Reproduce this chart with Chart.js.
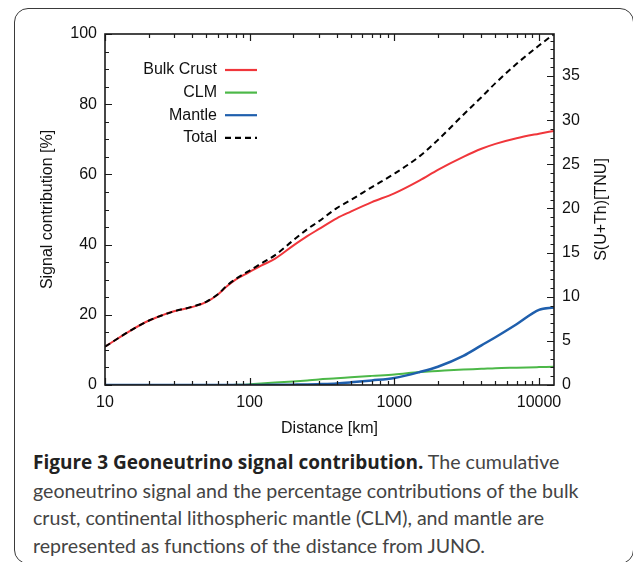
<!DOCTYPE html>
<html>
<head>
<meta charset="utf-8">
<script src="https://cdn.jsdelivr.net/npm/chart.js@4/dist/chart.umd.min.js"></script>
<style>
  html, body { margin:0; padding:0; background:#fff; width:633px; height:562px; overflow:hidden; }
  #frame { position:absolute; left:14px; top:8px; width:620px; height:556px; border:1.5px solid #3a3a3a; border-radius:14px; box-sizing:border-box; }
  #wrap { position:absolute; left:0; top:0; width:633px; height:445px; }
  #caption { position:absolute; left:33px; top:448px; width:600px; font-family:'Lato','Open Sans',sans-serif; font-size:19.6px; line-height:27.5px; color:#444; white-space:nowrap; }
  #caption b { color:#222; font-weight:700; font-family:'Open Sans','Lato',sans-serif; font-size:19px; }
</style>
</head>
<body>
<div id="frame"></div>
<div id="wrap"><canvas id="c" width="633" height="445"></canvas></div>
<div id="caption"><b>Figure 3 Geoneutrino signal contribution.</b> The cumulative<br>geoneutrino signal and the percentage contributions of the bulk<br>crust, continental lithospheric mantle (CLM), and mantle are<br>represented as functions of the distance from JUNO.</div>
<script>
// Distance from JUNO [km]
const distances = [10, 15, 20, 25, 30, 40, 50, 60, 70, 80, 90, 100, 120, 150, 200, 250, 300, 400, 500, 700, 1000, 1500, 2000, 3000, 4000, 5000, 7000, 10000, 12700];
// Signal contribution [%]
const bulkCrust = [10.9, 15.5, 18.3, 19.9, 21.0, 22.2, 23.6, 25.7, 28.2, 30.0, 31.2, 32.2, 34.0, 36.0, 39.7, 42.4, 44.4, 47.5, 49.4, 52.1, 54.6, 58.3, 61.3, 65.0, 67.3, 68.7, 70.3, 71.6, 72.4];
const clm       = [0, 0, 0, 0, 0, 0, 0, 0, 0, 0.05, 0.1, 0.2, 0.4, 0.7, 1.0, 1.3, 1.6, 1.9, 2.2, 2.6, 3.0, 3.7, 4.0, 4.4, 4.6, 4.8, 4.95, 5.1, 5.2];
const mantle    = [0, 0, 0, 0, 0, 0, 0, 0, 0, 0, 0, 0, 0.02, 0.05, 0.1, 0.15, 0.25, 0.45, 0.75, 1.3, 2.0, 3.7, 5.2, 8.3, 11.3, 13.6, 17.3, 21.4, 22.1];
const total     = [10.9, 15.5, 18.3, 19.9, 21.0, 22.3, 23.7, 25.8, 28.4, 30.2, 31.5, 32.6, 34.6, 37.0, 41.2, 44.4, 46.6, 50.4, 52.7, 56.4, 60.2, 65.2, 69.8, 77.0, 82.0, 86.0, 91.5, 96.7, 100];
// Axis tick labels
const xTickLabels = [10, 100, 1000, 10000];
const yTickStep = 20;
const y2TickStep = 5;
const y2Max = 39.75;

const seriesNames = ['Bulk Crust', 'CLM', 'Mantle', 'Total'];
const seriesColors = ['#f0363b', '#4cb848', '#1f5fad', '#000000'];

const pts = arr => distances.map((d, i) => ({x: d, y: arr[i]}));
const FONT = "'Liberation Sans', Arial, sans-serif";

const overlay = {
  id: 'overlay',
  afterDraw(chart) {
    const ctx = chart.ctx;
    const a = chart.chartArea;
    const sx = chart.scales.x, sy = chart.scales.y, sy2 = chart.scales.y2;
    ctx.save();
    ctx.strokeStyle = '#1a1a1a';
    ctx.lineWidth = 1.2;
    ctx.beginPath();
    for (let d = 10; d <= 10000; d *= 10) {
      for (let m = 1; m <= 9; m++) {
        const v = m * d;
        if (v < 10 || v > sx.max) continue;
        const px = Math.round(sx.getPixelForValue(v)) + 0.5;
        const len = m === 1 ? 7 : 4;
        ctx.moveTo(px, a.bottom); ctx.lineTo(px, a.bottom - len);
        ctx.moveTo(px, a.top); ctx.lineTo(px, a.top + len);
      }
    }
    for (let v = 0; v <= 100; v += 5) {
      const py = Math.round(sy.getPixelForValue(v)) + 0.5;
      const len = v % yTickStep === 0 ? 7 : 4;
      ctx.moveTo(a.left, py); ctx.lineTo(a.left + len, py);
    }
    for (let v = 0; v <= y2Max; v += 1) {
      const py = Math.round(sy2.getPixelForValue(v)) + 0.5;
      const len = v % y2TickStep === 0 ? 7 : 3.5;
      ctx.moveTo(a.right, py); ctx.lineTo(a.right - len, py);
    }
    ctx.stroke();
    ctx.lineWidth = 1.6;
    ctx.strokeRect(a.left, a.top, a.right - a.left, a.bottom - a.top);

    ctx.font = '16px ' + FONT;
    ctx.textAlign = 'right';
    ctx.textBaseline = 'middle';
    chart.data.datasets.forEach((ds, i) => {
      const y = 70 + i * 22.6;
      ctx.fillStyle = '#111';
      ctx.fillText(ds.label, 217, y);
      ctx.beginPath();
      ctx.strokeStyle = ds.borderColor;
      ctx.lineWidth = 2.2;
      ctx.setLineDash(ds.borderDash || []);
      ctx.moveTo(225, y); ctx.lineTo(257, y);
      ctx.stroke();
      ctx.setLineDash([]);
    });

    ctx.translate(602, (a.top + a.bottom) / 2);
    ctx.rotate(-Math.PI / 2);
    ctx.textAlign = 'center';
    ctx.fillStyle = '#111';
    ctx.fillText('S(U+Th)[TNU]', 0, 0);
    ctx.restore();
  }
};

const lineDs = (label, data, color, order, extra) => Object.assign({
  label, data: pts(data), borderColor: color, backgroundColor: color,
  borderWidth: 2, pointRadius: 0, fill: false, cubicInterpolationMode: 'monotone', order
}, extra || {});

new Chart(document.getElementById('c'), {
  type: 'line',
  data: {
    datasets: [
      lineDs(seriesNames[0], bulkCrust, seriesColors[0], 3),
      lineDs(seriesNames[1], clm, seriesColors[1], 2),
      lineDs(seriesNames[2], mantle, seriesColors[2], 1, {borderWidth: 2.5}),
      lineDs(seriesNames[3], total, seriesColors[3], 0, {borderDash: [6, 4]})
    ]
  },
  options: {
    responsive: false,
    animation: false,
    devicePixelRatio: 1,
    layout: { padding: { top: 34, left: 0, right: 0, bottom: 0 } },
    plugins: { legend: { display: false }, tooltip: { enabled: false } },
    scales: {
      x: {
        type: 'logarithmic', min: 10, max: 12700, position: 'bottom',
        grid: { display: false, drawTicks: false }, border: { display: false },
        ticks: {
          autoSkip: false, maxRotation: 0, minRotation: 0, padding: 8, color: '#111',
          font: { family: FONT, size: 16 },
          callback: (v) => xTickLabels.includes(Math.round(v)) && Math.abs(v - Math.round(v)) < 1e-6 ? String(Math.round(v)) : ''
        },
        title: { display: true, text: 'Distance [km]', color: '#111', font: { family: FONT, size: 16 }, padding: { top: 0, bottom: 7 } },
        afterFit: (s) => { s.height = 60; }
      },
      y: {
        position: 'left', min: 0, max: 100,
        grid: { display: false, drawTicks: false }, border: { display: false },
        ticks: { stepSize: yTickStep, padding: 8, color: '#111', font: { family: FONT, size: 16 } },
        title: { display: true, text: 'Signal contribution [%]', color: '#111', font: { family: FONT, size: 16 }, padding: { top: 38, bottom: 0 } },
        afterFit: (s) => { s.width = 105; }
      },
      y2: {
        position: 'right', min: 0, max: y2Max,
        grid: { display: false, drawTicks: false }, border: { display: false },
        ticks: { stepSize: y2TickStep, includeBounds: false, padding: 8, color: '#111', font: { family: FONT, size: 16 } },
        afterFit: (s) => { s.width = 79; }
      }
    }
  },
  plugins: [overlay]
});
</script>
</body>
</html>
